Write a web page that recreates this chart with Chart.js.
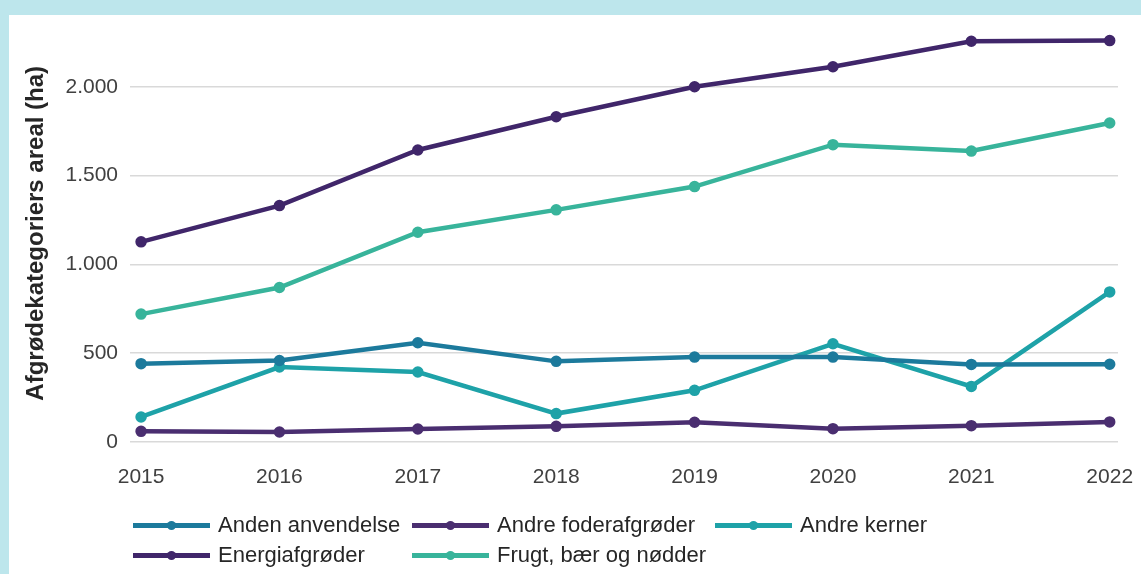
<!DOCTYPE html>
<html>
<head>
<meta charset="utf-8">
<script src="https://cdn.jsdelivr.net/npm/chart.js@4"></script>
<style>
  html, body { margin: 0; padding: 0; }
  body { width: 1141px; height: 574px; background: #bde6ec; position: relative; overflow: hidden; }
  #panel { position: absolute; left: 9px; top: 15px; right: 0; bottom: 0; background: #fff; }
  #areaChart { position: absolute; left: 0; top: 0; }
  .legend-item { position: absolute; display: flex; align-items: center; height: 30px; transform: translateY(-50%);
    font-family: 'Liberation Sans', Arial, sans-serif; font-size: 22px; color: #262626; white-space: nowrap; }
  .legend-line { position: relative; width: 77px; height: 5px; margin-right: 8px; }
  .legend-dot { position: absolute; left: 34px; top: -2px; width: 9px; height: 9px; border-radius: 50%; }
</style>
</head>
<body>
<div id="panel"></div>
<canvas id="areaChart" width="1141" height="574"></canvas>
<div id="legend"></div>
<script>
const years = [2015, 2016, 2017, 2018, 2019, 2020, 2021, 2022];
const yTicks = [0, 500, 1000, 1500, 2000];

const andenAnvendelse = [441, 459, 559, 454, 478, 478, 437, 438];
const andreFoderafgroeder = [60, 56, 73, 88, 111, 75, 92, 113];
const andreKerner = [141, 422, 394, 160, 291, 553, 313, 845];
const energiafgroeder = [1127, 1331, 1644, 1831, 2000, 2113, 2256, 2260];
const frugtBaerNoedder = [720, 870, 1181, 1307, 1438, 1674, 1638, 1796];

const seriesNames = ['Anden anvendelse', 'Andre foderafgrøder', 'Andre kerner', 'Energiafgrøder', 'Frugt, bær og nødder'];
const seriesValues = [andenAnvendelse, andreFoderafgroeder, andreKerner, energiafgroeder, frugtBaerNoedder];
const seriesColors = ['#1c7a9c', '#4a2e70', '#1ea2a8', '#40266a', '#38b49b'];

const tickFont = { family: "'Liberation Sans', Arial, sans-serif", size: 21 };

function thousands(v) {
    return String(v).replace(/\B(?=(\d{3})+(?!\d))/g, '.');
}

const datasets = seriesNames.map((name, i) => ({
    label: name,
    data: years.map((y, j) => ({ x: y, y: seriesValues[i][j] })),
    borderColor: seriesColors[i],
    backgroundColor: seriesColors[i],
    borderWidth: 4.5,
    pointRadius: 3.5,
    pointHoverRadius: 3.5,
    tension: 0
}));

const ctx = document.getElementById('areaChart').getContext('2d');
const chart = new Chart(ctx, {
    type: 'line',
    data: { datasets: datasets },
    options: {
        responsive: false,
        animation: false,
        layout: { padding: { left: 0, top: 24, right: 23, bottom: 82 } },
        plugins: {
            legend: { display: false },
            tooltip: { enabled: false }
        },
        scales: {
            x: {
                type: 'linear',
                min: 2014.92,
                max: 2022.06,
                grid: { display: false },
                border: { display: false },
                ticks: {
                    padding: 15,
                    maxRotation: 0,
                    color: '#404040',
                    font: tickFont,
                    callback: v => String(v)
                },
                afterBuildTicks: scale => { scale.ticks = years.map(v => ({ value: v })); },
                afterFit: scale => {
                    scale.height = 50;
                    scale.paddingLeft = 0;
                    scale.paddingRight = 0;
                }
            },
            y: {
                min: 0,
                max: 2350,
                grid: { color: '#d9d9d9', lineWidth: 1.5, drawTicks: false },
                border: { display: false },
                ticks: {
                    padding: 12,
                    color: '#404040',
                    font: tickFont,
                    callback: v => thousands(v)
                },
                afterBuildTicks: scale => { scale.ticks = yTicks.map(v => ({ value: v })); },
                title: {
                    display: true,
                    text: 'Afgrødekategoriers areal (ha)',
                    color: '#262626',
                    font: { family: "'Liberation Sans', Arial, sans-serif", size: 24, weight: 'bold' },
                    padding: { top: 22, bottom: 0 }
                },
                afterFit: scale => { scale.width = 130; }
            }
        }
    }
});

// legend laid out in columns like the original
const legendCols = [133, 412, 715];
const legendRows = [525, 555];
const legend = document.getElementById('legend');
chart.data.datasets.forEach((ds, i) => {
    const item = document.createElement('div');
    item.className = 'legend-item';
    item.style.left = legendCols[i % 3] + 'px';
    item.style.top = legendRows[Math.floor(i / 3)] + 'px';
    const line = document.createElement('span');
    line.className = 'legend-line';
    line.style.background = ds.borderColor;
    const dot = document.createElement('span');
    dot.className = 'legend-dot';
    dot.style.background = ds.borderColor;
    line.appendChild(dot);
    const text = document.createElement('span');
    text.textContent = ds.label;
    item.appendChild(line);
    item.appendChild(text);
    legend.appendChild(item);
});
</script>
</body>
</html>
